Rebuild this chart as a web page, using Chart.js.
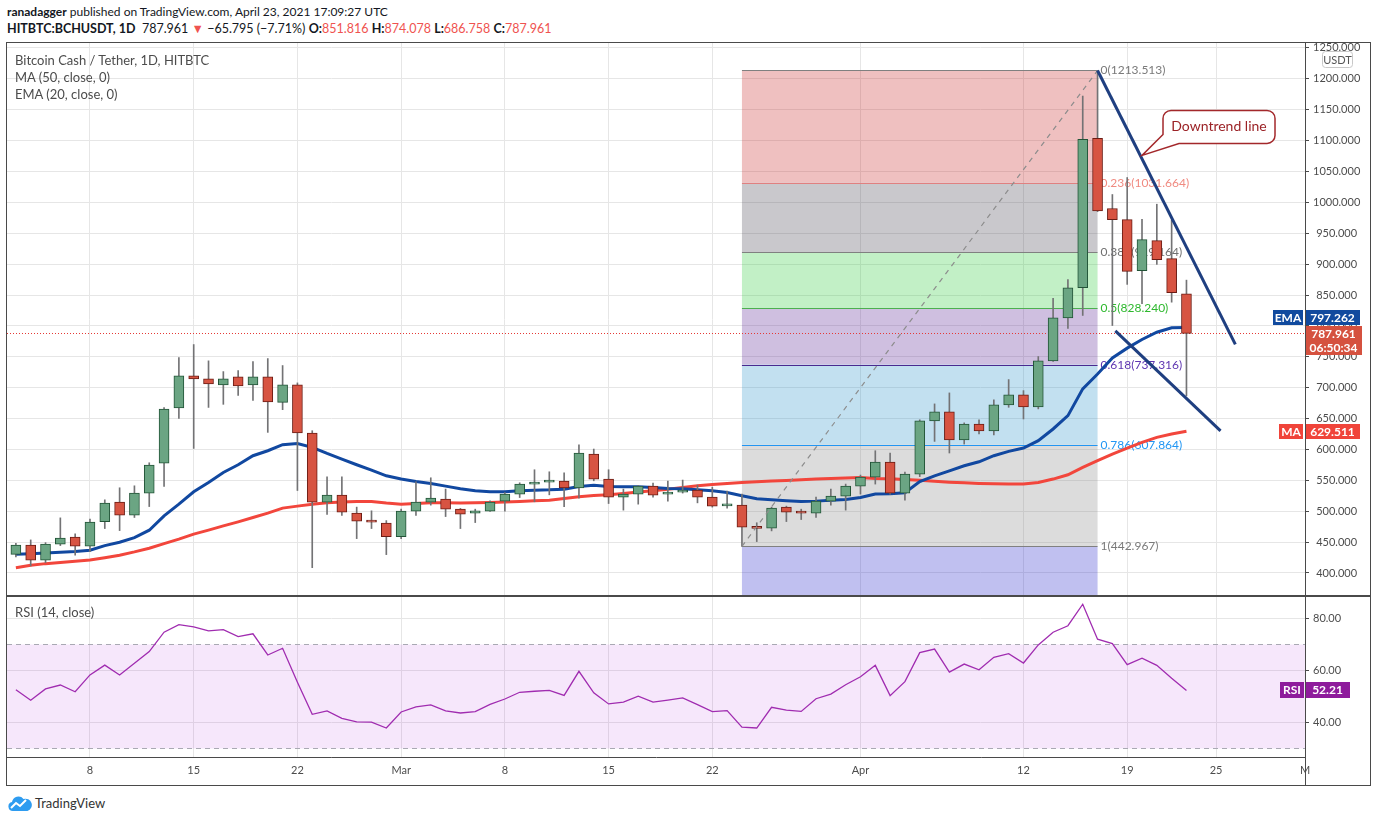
<!DOCTYPE html>
<html lang="en">
<head>
<meta charset="utf-8">
<title>Bitcoin Cash / Tether, 1D, HITBTC</title>
<script src="https://cdn.jsdelivr.net/npm/chart.js@4.4.1/dist/chart.umd.min.js"></script>
<style>
  html, body { margin: 0; padding: 0; background: #fff; }
  body { position: relative; width: 1376px; height: 823px; overflow: hidden; font-family: Lato, "Liberation Sans", sans-serif; }
  .hdr { position: absolute; left: 7px; white-space: nowrap; color: #131722; font-size: 12px; line-height: 16px; }
  .red { color: #ef5350; }
  .legend { position: absolute; left: 15px; color: #4c4c4c; font-size: 13px; line-height: 16px; white-space: nowrap; }
  .rule { position: absolute; background: #4a4a4a; }
  canvas { position: absolute; }
  #brand { position: absolute; left: 8px; top: 795px; display: flex; align-items: center; font-size: 13px; color: #333; }
  #brand svg { margin-right: 3px; }
</style>
</head>
<body>
<div class="hdr" style="top:4px"><b>ranadagger</b> published on TradingView.com, April 23, 2021 17:09:27 UTC</div>
<div class="hdr" style="top:21px;font-size:12.5px"><b>HITBTC:BCHUSDT, 1D</b>&nbsp; 787.961 <span class="red">&#9660;</span> &minus;65.795 (&minus;7.71%) <b>O:</b><span class="red">851.816</span> <b>H:</b><span class="red">874.078</span> <b>L:</b><span class="red">686.758</span> <b>C:</b><span class="red">787.961</span></div>

<canvas id="main" width="1363" height="553" style="left:7px;top:43px"></canvas>
<canvas id="rsi" width="1363" height="189" style="left:7px;top:597px"></canvas>

<div class="rule" style="left:6px;top:42px;width:1365px;height:1px"></div>
<div class="rule" style="left:6px;top:785px;width:1365px;height:1px"></div>
<div class="rule" style="left:6px;top:42px;width:1px;height:744px"></div>
<div class="rule" style="left:1370px;top:42px;width:1px;height:744px"></div>
<div class="rule" style="left:7px;top:595px;width:1363px;height:2px"></div>
<div class="rule" style="left:1305px;top:43px;width:1px;height:742px"></div>

<div class="legend" style="top:52px">Bitcoin Cash / Tether, 1D, HITBTC</div>
<div class="legend" style="top:69px">MA (50, close, 0)</div>
<div class="legend" style="top:86px">EMA (20, close, 0)</div>
<div class="legend" style="top:604px">RSI (14, close)</div>

<div id="brand">
  <svg width="24" height="16" viewBox="0 0 24 16"><path d="M5 16a4.5 4.5 0 0 1-1-8.9A6.5 6.5 0 0 1 15.5 4 5 5 0 0 1 19.5 16z" fill="#2e9cf0"/><polyline points="3,13 8,8 12,11 18,5" stroke="#fff" stroke-width="2" fill="none"/></svg>
  <span>TradingView</span>
</div>

<script>
// day 0 = Feb 3 2021, one candle per day up to Apr 23
const opens  = [430, 445, 420.6, 446.6, 457.9, 443.3, 483.2, 514.7, 493.6, 529.3,
                577.9, 667.2, 719.1, 714.2, 704.5, 717.4, 704.5, 717.4, 676.1, 704.5,
                626.6, 514.7, 526, 496.8, 484.3, 480.6, 458.9, 500.1, 514.7, 519.5,
                503.3, 496.8, 500.1, 516.3, 527.7, 543.9, 547.1, 548.8, 537.5, 592.6,
                552, 522.8, 527.7, 540.6, 527.7, 530.9, 534.2, 522.8, 508.5, 509.8,
                473.5, 472.5, 506.6, 500.1, 496.8, 516.3, 524.4, 540.6, 555.2, 579.6,
                529.3, 560.1, 646.1, 660.7, 615.3, 641.2, 629.9, 672.1, 688.3, 668.9,
                743.4, 813.1, 861.8, 1103.5, 990, 972.1, 889.4, 938, 908.8, 851.816];
const highs  = [448, 453.5, 449.1, 489.2, 463.3, 487.1, 518.4, 537.9, 541.1, 578.4,
                667.6, 748.7, 769.8, 743.4, 726, 727.7, 742.3, 747.1, 735.8, 707.7,
                630.3, 555.7, 555.7, 506.6, 500.6, 484.8, 503.3, 547.6, 554.1, 535.8,
                504.5, 503.3, 516.8, 530.3, 546, 567.1, 563.8, 562.2, 607.6, 600.6,
                567.1, 535.8, 541.5, 545.5, 548.8, 550.4, 542.3, 539, 532.5, 527.7,
                481.3, 506.6, 508.2, 503.3, 522.8, 535.8, 543.9, 558.5, 597.9, 594.2,
                563.3, 648, 673.7, 691.5, 643, 647.8, 680.2, 713.1, 695.2, 750.4,
                844.5, 874.8, 1172.1, 1213.513, 1012.7, 1040.2, 972.6, 997, 971, 874.078];
const lows   = [426, 411.4, 416.7, 444.3, 428.7, 434.6, 471.9, 468.6, 489.8, 507.5,
                540, 650.2, 601.6, 668, 673, 687.6, 679.5, 627.6, 664.4, 533.5,
                408.6, 494.6, 493, 455.6, 471.9, 429.7, 455.6, 493, 509.8, 491.3,
                471.9, 481.6, 499.5, 500.1, 522.1, 515.2, 526.5, 507.5, 521.2, 549.2,
                512.4, 501.7, 511.4, 522.8, 516.3, 529.3, 513.5, 506.6, 505, 442.967,
                450.8, 468.1, 483.2, 486.5, 489.8, 509.8, 501.7, 527.7, 543.9, 527.7,
                518, 556, 613, 594.2, 608.7, 625, 623.3, 668.2, 649.3, 665.6,
                742.3, 795.8, 816.9, 985, 800.6, 867.2, 835.8, 899.6, 838.4, 686.758];
const closes = [445, 420.6, 446.6, 456.3, 443.3, 482.2, 513.1, 493.6, 529.3, 574.7,
                665.5, 719.1, 714.2, 706.1, 714.2, 702.9, 717.4, 676.9, 704.5, 626.6,
                514.7, 526, 498.5, 483.9, 482.2, 458.9, 500.1, 514.7, 521.2, 503.3,
                495.2, 500.6, 514.7, 527.7, 543.9, 545.5, 548.8, 537.5, 594.2, 552,
                522.8, 527.7, 540.6, 526, 530.9, 534.2, 522.8, 508.2, 509.8, 474.1,
                472.3, 505, 498.5, 496.8, 516.3, 524.4, 540.6, 555.2, 579.6, 529.3,
                560.1, 646.1, 660.7, 615.3, 641.2, 629.9, 672.1, 688.3, 668.9, 743.4,
                813.1, 861.8, 1101.9, 986.2, 972.1, 888.2, 939.6, 907.2, 853.756, 787.961];

// EMA (20) and MA (50) as drawn on the chart
const ema20 = [430.3, 431.3, 432.4, 433.5, 434.6, 436.8, 444.3, 449.7, 457.3, 469.2,
               492.5, 511.4, 531.4, 546.5, 562.7, 575.2, 589.8, 597.9, 607.6, 609.5,
               603.3, 593.5, 584.4, 575.2, 566.6, 557.3, 552, 548.1, 544.9, 540.6,
               536.3, 533, 531.4, 531.4, 533, 534.1, 534.6, 535.7, 540, 541.9,
               540, 539.5, 539.5, 538.4, 536.8, 536.3, 534.6, 533, 530.3, 524.9,
               520, 518.4, 516.8, 515.7, 516.3, 517.9, 518.9, 522.2, 527.7, 528.2,
               529.8, 548.1, 557.3, 565.4, 573.5, 580, 589.8, 596.8, 602.2, 614.1,
               633.1, 654.7, 698, 722, 748, 764, 778, 789.8, 797, 797.262];
const ma50 = [408.6, 412.4, 415.1, 417, 419, 421.1, 424.8, 428.7, 434.1, 440.1,
              447.5, 454.7, 462.8, 469.3, 476.2, 482.7, 489.7, 496.8, 505, 508.2,
              511.4, 513.5, 514.7, 515.7, 515.7, 513.1, 511.4, 512.4, 513.5, 513.5,
              513.1, 513.5, 514, 514.7, 515.7, 516.8, 517.9, 520.5, 523.3, 525.4,
              526.5, 528.6, 530.9, 533, 535.7, 538.4, 541.1, 543.2, 544.9, 546.5,
              547.6, 548.7, 549.7, 550.9, 552, 553, 553.6, 554.6, 553, 552.5,
              551.5, 550, 548.5, 547, 546, 545, 544.5, 544, 544, 546.5,
              552, 559, 570.8, 581.7, 592.5, 602.2, 611.4, 619.5, 624.9, 629.511];
const rsi14 = [52.5, 48.4, 52.8, 54.3, 51.7, 58.2, 62, 58.2, 62.7, 67.2,
               74.7, 77.6, 76.8, 75.2, 75.7, 73, 74.1, 65.9, 68.5, 55.4,
               43, 44.3, 41.4, 40.1, 40, 37.7, 43.9, 45.9, 46.6, 44.3,
               43.5, 44, 46.8, 48.9, 51.5, 51.9, 52.2, 50.3, 59.6, 51.3,
               47, 47.7, 50, 47.7, 48.5, 49.3, 46.7, 44, 44.4, 38,
               37.7, 45.7, 44.6, 44.1, 49, 50.8, 54.4, 57.5, 61.9, 50.2,
               55.6, 66.8, 68.2, 59.3, 62.4, 60.2, 65, 66.4, 62.8, 69.8,
               74.7, 77.2, 85.5, 72, 70.3, 62.2, 64.7, 61.9, 56.9, 52.21];

// time axis
const tickDays   = [5, 12, 19, 26, 33, 40, 47, 57, 68, 75, 81, 87];
const tickLabels = ['8', '15', '22', 'Mar', '8', '15', '22', 'Apr', '12', '19', '25', 'M'];
const priceTicks = [400, 450, 500, 550, 600, 650, 700, 750, 800, 850, 900, 950, 1000, 1050, 1100, 1150, 1200, 1250];
const rsiTicks   = [40, 60, 80];

// fib retracement drawn from the Mar 24 low to the Apr 17 high
const fibRatios = ['0', '0.236', '0.382', '0.5', '0.618', '0.786', '1'];
const fibPrices = [1213.513, 1031.664, 919.164, 828.240, 737.316, 607.864, 442.967];
const fibStartDay = 49, fibEndDay = 73;

// hand-drawn lines
const trendUpper = [{ x: 73, y: 1213.513 }, { x: 82.3, y: 770 }];
const trendLower = [{ x: 74.2, y: 792 }, { x: 81.3, y: 630 }];
const fibDiagonal = [{ x: fibStartDay, y: 442.967 }, { x: fibEndDay, y: 1213.513 }];
const calloutTip = { x: 76, y: 1076 };

const xMin = -0.6, xMax = 87;
const priceMin = 362.7, priceMax = 1258;
const rsiMin = 26.5, rsiMax = 88.3;

// styles
const gridColor = '#e6e6e6';
const axisText = '#4c4c4c';
const upFill = '#6ba583', upBorder = '#225437';
const downFill = '#d75442', downBorder = '#6b1c14';
const wickColor = '#737375';
const emaColor = '#1148a0', maColor = '#f2463c', trendColor = '#1f3f80';
const fibFills = ['rgba(202,45,45,0.3)', 'rgba(75,72,85,0.3)', 'rgba(52,205,65,0.3)', 'rgba(95,42,152,0.3)',
                  'rgba(52,152,205,0.3)', 'rgba(138,138,138,0.3)', 'rgba(45,45,205,0.3)'];
const fibLineColors = ['#808080', '#e08080', '#808080', '#4caf50', '#4a2a90', '#2196f3', '#808080'];
const fibTextColors = ['#7a7a7a', '#f08a80', '#707070', '#2eb82e', '#5e35b1', '#2196f3', '#7a7a7a'];

Chart.defaults.font.family = 'Lato, "Liberation Sans", sans-serif';
Chart.defaults.color = axisText;

const fibPlugin = {
    id: 'fib',
    beforeDatasetsDraw(chart) {
        const { ctx, chartArea: a, scales: { x, y } } = chart;
        const x0 = x.getPixelForValue(fibStartDay);
        const x1 = x.getPixelForValue(fibEndDay);
        ctx.save();
        ctx.beginPath();
        ctx.rect(a.left, a.top, a.width, a.height);
        ctx.clip();
        for (let i = 0; i < fibPrices.length; i++) {
            const top = y.getPixelForValue(fibPrices[i]);
            const bot = i + 1 < fibPrices.length ? y.getPixelForValue(fibPrices[i + 1]) : a.bottom;
            ctx.fillStyle = fibFills[i];
            ctx.fillRect(x0, top, x1 - x0, bot - top);
        }
        ctx.lineWidth = 1;
        ctx.font = '12px Lato, sans-serif';
        ctx.textBaseline = 'middle';
        ctx.textAlign = 'left';
        for (let i = 0; i < fibPrices.length; i++) {
            const py = Math.round(y.getPixelForValue(fibPrices[i])) + 0.5;
            ctx.strokeStyle = fibLineColors[i];
            ctx.beginPath();
            ctx.moveTo(x0, py);
            ctx.lineTo(x1, py);
            ctx.stroke();
            ctx.fillStyle = fibTextColors[i];
            ctx.fillText(fibRatios[i] + '(' + fibPrices[i].toFixed(3) + ')', x1 + 3, py);
        }
        // last close dotted line
        const cy = Math.round(y.getPixelForValue(closes[closes.length - 1])) + 0.5;
        ctx.strokeStyle = '#e53935';
        ctx.setLineDash([1, 2]);
        ctx.beginPath();
        ctx.moveTo(a.left, cy);
        ctx.lineTo(a.right, cy);
        ctx.stroke();
        ctx.restore();
    }
};

function drawTag(ctx, left, top, w, h, color, lines) {
    ctx.fillStyle = color;
    ctx.fillRect(left, top, w, h);
    ctx.fillStyle = '#fff';
    ctx.textAlign = 'center';
    ctx.textBaseline = 'middle';
    lines.forEach(function(t, k) {
        ctx.fillText(t, left + w / 2, top + 8 + k * 14);
    });
}

const tagPlugin = {
    id: 'tags',
    afterDraw(chart) {
        const { ctx, chartArea: a, scales: { x, y } } = chart;
        ctx.save();

        // callout
        const tx = x.getPixelForValue(calloutTip.x);
        const ty = y.getPixelForValue(calloutTip.y);
        const L = tx + 21, R = tx + 133, T = ty - 45, B = ty - 12, r = 8;
        ctx.beginPath();
        ctx.moveTo(L + r, T);
        ctx.lineTo(R - r, T);
        ctx.arcTo(R, T, R, T + r, r);
        ctx.lineTo(R, B - r);
        ctx.arcTo(R, B, R - r, B, r);
        ctx.lineTo(L + 16, B);
        ctx.lineTo(tx, ty);
        ctx.lineTo(L, B - 9);
        ctx.lineTo(L, T + r);
        ctx.arcTo(L, T, L + r, T, r);
        ctx.closePath();
        ctx.fillStyle = '#fff';
        ctx.fill();
        ctx.strokeStyle = '#a3282b';
        ctx.lineWidth = 1.5;
        ctx.stroke();
        ctx.fillStyle = '#9b2226';
        ctx.font = '14px Lato, sans-serif';
        ctx.textAlign = 'center';
        ctx.textBaseline = 'middle';
        ctx.fillText('Downtrend line', (L + R) / 2, (T + B) / 2);

        // price axis tags
        ctx.font = 'bold 12px Lato, sans-serif';
        const cy = y.getPixelForValue(closes[closes.length - 1]);
        const closeTop = Math.round(cy) - 7;
        drawTag(ctx, a.right, closeTop, 57, 29, '#d5513f', [closes[closes.length - 1].toFixed(3), '06:50:34']);
        drawTag(ctx, a.right - 32, closeTop - 16, 30, 15, '#114a9e', ['EMA']);
        drawTag(ctx, a.right, closeTop - 16, 55, 15, '#114a9e', [ema20[ema20.length - 1].toFixed(3)]);
        const my = Math.round(y.getPixelForValue(ma50[ma50.length - 1])) - 7;
        drawTag(ctx, a.right - 26, my, 24, 15, '#f0443a', ['MA']);
        drawTag(ctx, a.right, my, 55, 15, '#f0443a', [ma50[ma50.length - 1].toFixed(3)]);

        // currency badge
        ctx.fillStyle = '#fff';
        ctx.strokeStyle = '#c8c8c8';
        ctx.lineWidth = 1;
        ctx.beginPath();
        ctx.roundRect(a.right + 17.5, 8.5, 30, 16, 3);
        ctx.fill();
        ctx.stroke();
        ctx.fillStyle = '#555';
        ctx.font = '11px Lato, sans-serif';
        ctx.fillText('USDT', a.right + 32.5, 17);
        ctx.restore();
    }
};

const rsiPlugin = {
    id: 'rsiBand',
    beforeDatasetsDraw(chart) {
        const { ctx, chartArea: a, scales: { y } } = chart;
        const y70 = Math.round(y.getPixelForValue(70)) + 0.5;
        const y30 = Math.round(y.getPixelForValue(30)) + 0.5;
        ctx.save();
        ctx.fillStyle = 'rgba(170,40,220,0.11)';
        ctx.fillRect(a.left, y70, a.width, y30 - y70);
        ctx.strokeStyle = '#a9a9b3';
        ctx.lineWidth = 1;
        ctx.setLineDash([5, 4]);
        [y70, y30].forEach(function(py) {
            ctx.beginPath();
            ctx.moveTo(a.left, py);
            ctx.lineTo(a.right, py);
            ctx.stroke();
        });
        ctx.restore();
    },
    afterDraw(chart) {
        const { ctx, chartArea: a, scales: { y } } = chart;
        const last = rsi14[rsi14.length - 1];
        const top = Math.round(y.getPixelForValue(last)) - 8;
        ctx.save();
        ctx.font = 'bold 12px Lato, sans-serif';
        drawTag(ctx, a.right - 25, top, 24, 16, '#8e1b9c', ['RSI']);
        drawTag(ctx, a.right, top, 45, 16, '#8e1b9c', [last.toFixed(2)]);
        ctx.restore();
    }
};

function xScale(showLabels) {
    return {
        type: 'linear',
        min: xMin,
        max: xMax,
        offset: false,
        afterBuildTicks: function(s) { s.ticks = tickDays.map(function(v) { return { value: v }; }); },
        afterFit: function(s) {
            s.height = showLabels ? 29 : 0;
            s.paddingLeft = 0;
            s.paddingRight = 0;
        },
        ticks: {
            display: showLabels,
            autoSkip: false,
            maxRotation: 0,
            padding: 7,
            font: { size: 11 },
            callback: function(v) { return tickLabels[tickDays.indexOf(v)]; }
        },
        grid: { color: gridColor, drawTicks: false, offset: false },
        border: { display: showLabels, color: '#4a4a4a' }
    };
}

function yScale(min, max, ticks, digits) {
    return {
        position: 'right',
        min: min,
        max: max,
        afterBuildTicks: function(s) { s.ticks = ticks.map(function(v) { return { value: v }; }); },
        afterFit: function(s) {
            s.width = 65;
            // let the plot run to the pane edges like the original
            s.paddingTop = 0;
            s.paddingBottom = 0;
        },
        ticks: {
            padding: 4,
            crossAlign: 'center',
            font: { size: 11 },
            callback: function(v) { return v.toFixed(digits); }
        },
        grid: { color: gridColor, tickColor: '#4a4a4a', tickLength: 4 },
        border: { display: false }
    };
}

const bodyData = opens.map(function(o, i) { return { x: i, y: [o, closes[i]] }; });
const wickData = lows.map(function(l, i) { return { x: i, y: [l, highs[i]] }; });
const isUp = opens.map(function(o, i) { return closes[i] >= o; });

new Chart(document.getElementById('main'), {
    type: 'bar',
    data: {
        datasets: [
            {
                type: 'line',
                data: trendUpper,
                borderColor: trendColor,
                borderWidth: 3,
                pointRadius: 0,
                order: 0
            },
            {
                type: 'line',
                data: trendLower,
                borderColor: trendColor,
                borderWidth: 3,
                pointRadius: 0,
                order: 0
            },
            {
                type: 'line',
                data: fibDiagonal,
                borderColor: '#8c8c8c',
                borderWidth: 1.2,
                borderDash: [5, 5],
                pointRadius: 0,
                order: 0
            },
            {
                data: bodyData,
                backgroundColor: isUp.map(function(u) { return u ? upFill : downFill; }),
                borderColor: isUp.map(function(u) { return u ? upBorder : downBorder; }),
                borderWidth: 1,
                borderSkipped: false,
                barThickness: 10,
                minBarLength: 2,
                grouped: false,
                order: 1
            },
            {
                data: wickData,
                backgroundColor: wickColor,
                barThickness: 1,
                grouped: false,
                order: 2
            },
            {
                type: 'line',
                data: ema20.map(function(v, i) { return { x: i, y: v }; }),
                borderColor: emaColor,
                borderWidth: 3,
                pointRadius: 0,
                order: 3
            },
            {
                type: 'line',
                data: ma50.map(function(v, i) { return { x: i, y: v }; }),
                borderColor: maColor,
                borderWidth: 3,
                pointRadius: 0,
                order: 4
            }
        ]
    },
    options: {
        responsive: false,
        animation: false,
        layout: { padding: 0 },
        plugins: { legend: { display: false }, tooltip: { enabled: false } },
        scales: {
            x: xScale(false),
            y: yScale(priceMin, priceMax, priceTicks, 3)
        }
    },
    plugins: [fibPlugin, tagPlugin]
});

new Chart(document.getElementById('rsi'), {
    type: 'line',
    data: {
        datasets: [{
            data: rsi14.map(function(v, i) { return { x: i, y: v }; }),
            borderColor: '#a02cb0',
            borderWidth: 1.3,
            pointRadius: 0
        }]
    },
    options: {
        responsive: false,
        animation: false,
        layout: { padding: 0 },
        plugins: { legend: { display: false }, tooltip: { enabled: false } },
        scales: {
            x: xScale(true),
            y: yScale(rsiMin, rsiMax, rsiTicks, 2)
        }
    },
    plugins: [rsiPlugin]
});
</script>
</body>
</html>
